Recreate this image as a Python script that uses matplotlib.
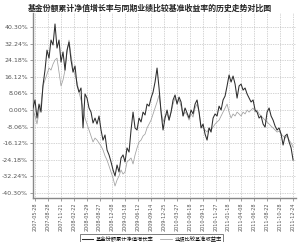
import numpy as np
import matplotlib
matplotlib.use("Agg")
import matplotlib.pyplot as plt

plt.rcParams['font.family'] = ['Noto Sans CJK SC', 'DejaVu Sans']

title = "基金份额累计净值增长率与同期业绩比较基准收益率的历史走势对比图"
series_names = ["基金份额累计净值增长率", "业绩比较基准收益率"]

fund = [1.0, 4.9, -3.9, 2.9, -1.0, 12.1, 19.4, 29.1, 25.2, 34.0, 31.6, 41.8, 30.1, 34.0, 23.3,
        28.2, 19.4, 29.1, 33.0, 24.3, 18.4, 21.4, 12.1, 8.7, 10.7, -8.7, 7.8, 5.8, 1.0, -1.0,
        -6.3, -3.9, -6.8, -2.9, -9.7, -14.6, -12.1, -19.4, -21.8, -25.2, -29.1, -32.0, -26.7, -30.1, -23.3,
        -21.8, -25.2, -18.4, -20.4, -9.7, -1.0, -8.7, -9.7, -3.9, -5.8, -1.0, -2.4, 2.9, 1.9, 5.8,
        8.7, 13.6, 20.4, 10.7, -1.0, -9.7, -3.9, 0.0, -4.9, -1.0, 4.9, 7.3, 2.9, 6.3, 3.9,
        -2.9, 1.0, -1.5, -3.9, 0.0, -1.9, 2.9, 4.9, -1.0, -8.7, -6.8, -11.7, -14.6, -8.7, -10.7,
        -3.9, -1.9, -2.9, 1.9, 0.0, 4.9, 6.8, 11.7, 17.0, 13.6, 16.5, 12.6, 5.8, 11.7, 12.6,
        9.7, 10.7, 7.8, 5.8, 3.9, 4.9, 0.0, -1.0, -3.9, -2.9, -6.8, -8.3, -1.0, 1.0, -2.9,
        -4.9, -7.8, -9.7, -8.7, -11.7, -17.0, -12.6, -11.7, -15.5, -18.4, -24.3]

bench = [0.0, -2.9, -6.8, -1.0, 2.9, 11.7, 14.6, 17.5, 20.4, 19.4, 22.3, 24.3, 25.2, 18.4, 11.7,
         14.6, 19.4, 28.2, 34.0, 26.7, 20.4, 17.0, 13.6, 8.7, 4.9, 1.0, -3.9, -6.8, -9.7, -12.6,
         -15.5, -13.6, -14.6, -16.0, -17.5, -19.4, -22.3, -24.3, -27.2, -30.1, -33.0, -36.9, -34.0, -32.0, -29.1,
         -31.1, -30.1, -25.2, -24.3, -23.3, -26.2, -21.8, -18.4, -15.5, -14.6, -12.6, -11.7, -8.7, -6.8, -4.9,
         -1.9, 1.0, 3.9, 7.3, 0.0, -5.8, -2.9, -1.9, -4.9, -1.0, 2.9, 5.8, 3.9, 4.9, 1.9,
         -2.9, -1.0, -2.4, -4.9, -1.9, -3.4, 1.0, 2.9, -1.0, -7.8, -8.7, -9.7, -10.7, -8.7, -9.7,
         -8.3, -6.8, -5.8, -4.9, -2.9, -1.0, 1.0, 2.9, -1.0, -3.9, -1.9, -2.9, -1.0, -1.9, -2.9,
         -1.0, -1.9, 0.0, -1.0, 0.0, 1.0, -1.0, 0.0, -1.9, -2.9, -3.9, -4.9, -5.8, -6.8, -7.8,
         -8.7, -9.7, -10.7, -10.2, -11.7, -12.6, -13.6, -12.6, -14.6, -16.0, -18.0]

date_labels = ["2007-05-28", "2007-08-28", "2007-11-21", "2008-02-22", "2008-05-29", "2008-08-27",
               "2008-12-08", "2009-03-18", "2009-06-12", "2009-09-14", "2009-12-25", "2010-03-27",
               "2010-06-18", "2010-09-13", "2010-11-27", "2011-01-18", "2011-04-08", "2011-06-28",
               "2011-08-22", "2011-10-28", "2011-12-24"]

y_ticks = [40.30, 32.24, 24.18, 16.12, 8.06, 0.00, -8.06, -16.12, -24.18, -32.24, -40.30]

fig = plt.figure(figsize=(3.0, 2.42), dpi=100)
ax = fig.add_axes([0.11, 0.182, 0.877, 0.764])

xf = np.arange(len(fund))
xb = np.arange(len(bench))
l_bench, = ax.plot(xb, bench, color="#a0a0a0", lw=0.55, zorder=2)
l_fund, = ax.plot(xf, fund, color="#2e2e2e", lw=0.75, zorder=3)

ax.set_xlim(0, len(fund) + 0.5)
ax.set_ylim(-42.7, 47.1)
ax.set_yticks(y_ticks)
ax.set_yticklabels([f"{v:.2f}%" for v in y_ticks], fontsize=4.5, color="#555555",
                   family="DejaVu Sans")
xt = np.linspace(1, len(fund) - 1, len(date_labels))
ax.set_xticks(xt)
ax.set_xticklabels(date_labels, rotation=90, fontsize=3.5, color="#555555", family="DejaVu Sans")
ax.tick_params(axis="both", length=2, width=0.5, color="#777777", pad=1.5)

ax.grid(True, color="#aaaaaa", linestyle=(0, (1, 1.5)), linewidth=0.5)
ax.set_axisbelow(True)
for s in ["top", "right"]:
    ax.spines[s].set_visible(False)
for s in ["left", "bottom"]:
    ax.spines[s].set_color("#888888")
    ax.spines[s].set_linewidth(1.0)

fig.text(0.5, 0.967, title, ha="center", va="center", fontsize=5.7, fontweight="bold", color="#222222")

leg = fig.legend([l_fund, l_bench], series_names, loc="upper center",
                 bbox_to_anchor=(0.505, 0.043), ncol=2, fontsize=3.8, frameon=True,
                 fancybox=False, edgecolor="#444444", handlelength=2.2, handletextpad=0.5,
                 columnspacing=1.2, borderpad=0.35)
leg.get_frame().set_linewidth(0.6)

fig.savefig("out.png", dpi=100)
